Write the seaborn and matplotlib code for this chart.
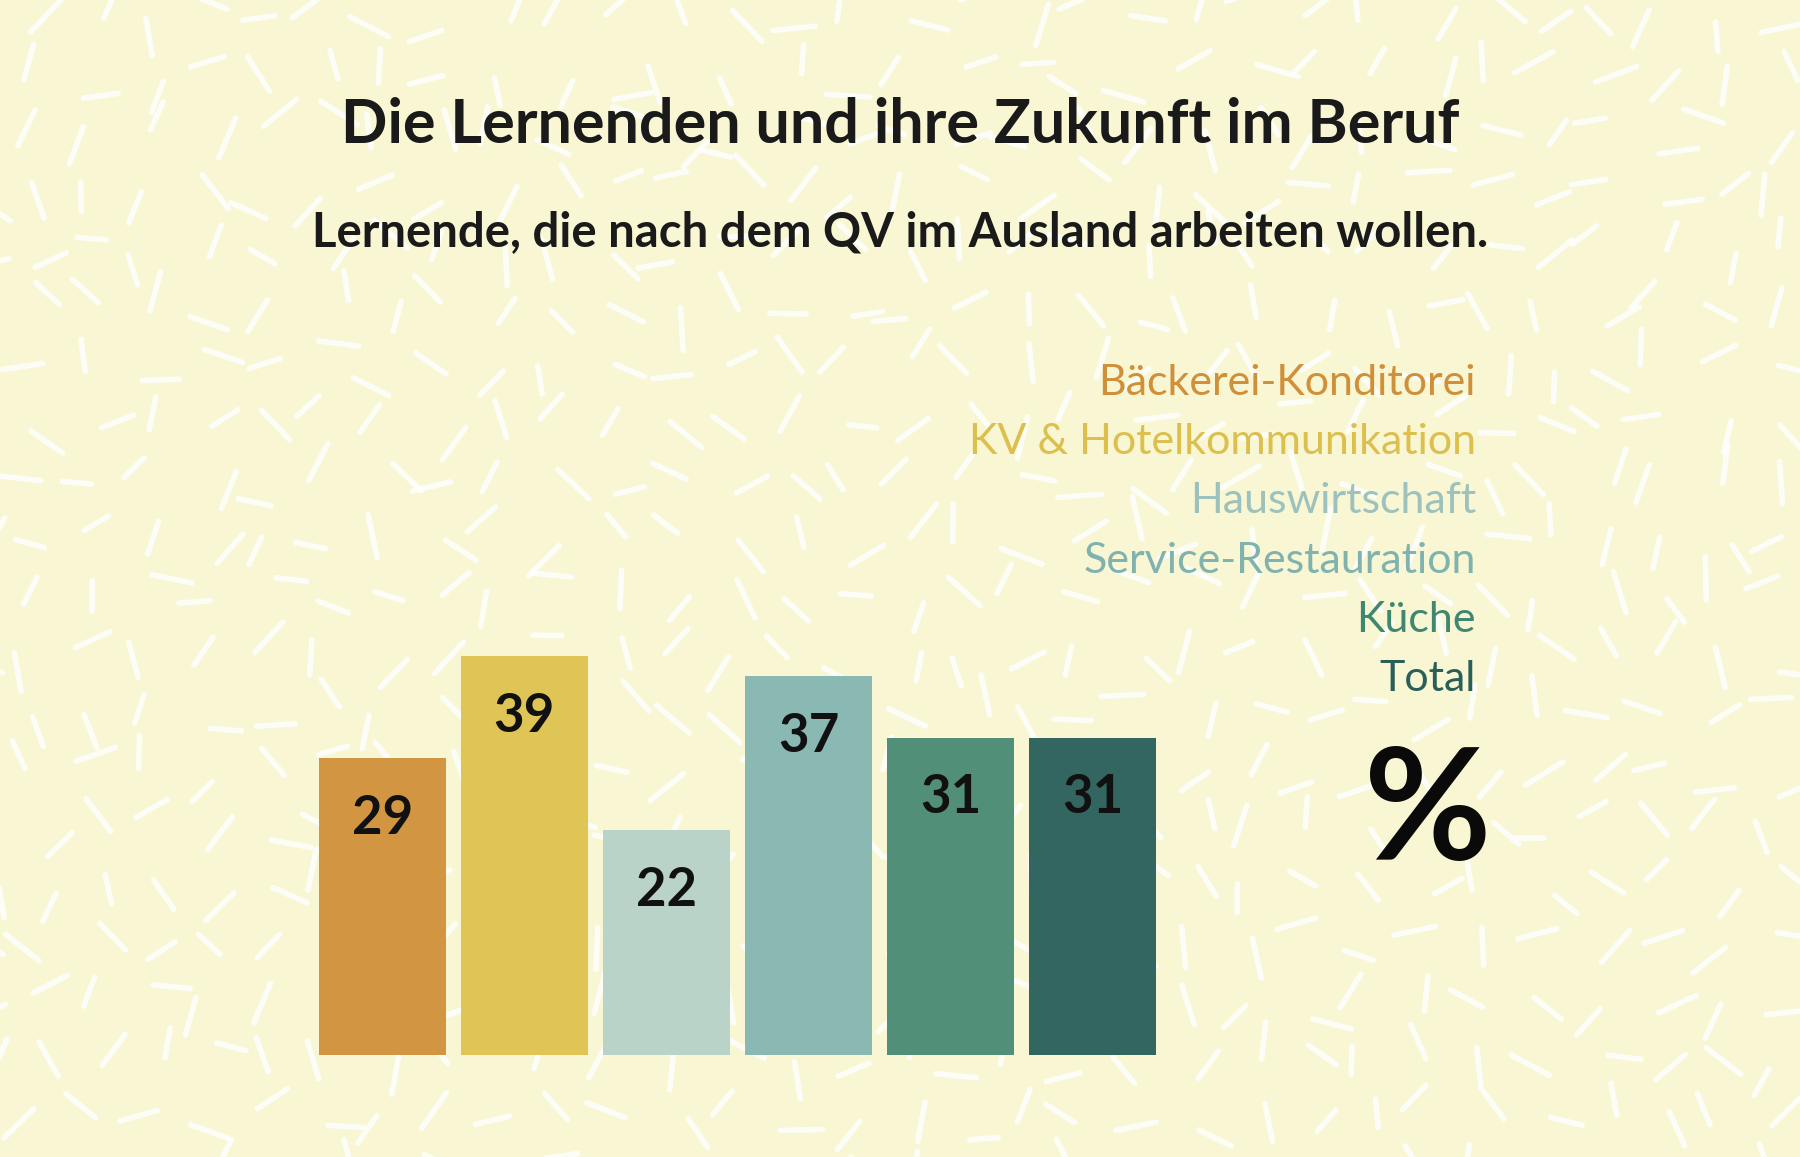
import numpy as np
import pandas as pd
import seaborn as sns
import matplotlib.pyplot as plt

# data
categories = ['Bäckerei-Konditorei', 'KV & Hotelkommunikation', 'Hauswirtschaft',
              'Service-Restauration', 'Küche', 'Total']
values = [29, 39, 22, 37, 31, 31]
bar_colors = ['#D29642', '#DFC456', '#BAD3C8', '#8AB8B2', '#528F78', '#336660']
label_colors = ['#D0903A', '#DDBF4E', '#9DC1BD', '#80B3AF', '#3F8770', '#2A5E59']

df = pd.DataFrame({'Beruf': categories, 'Anteil': values})

sns.set_theme(style='white')
plt.rcParams['font.family'] = ['Lato', 'DejaVu Sans']

bg = '#F8F6D3'
fig = plt.figure(figsize=(18, 11.57), dpi=100)
fig.patch.set_facecolor(bg)

# background confetti dashes (decoration only), jittered grid
rng = np.random.default_rng(11)
step = 58
for gx in np.arange(-20, 1820, step):
    for gy in np.arange(-20, 1180, step):
        x = gx + rng.uniform(-22, 22)
        y = gy + rng.uniform(-22, 22)
        a = rng.uniform(0, np.pi)
        l = rng.uniform(28, 44)
        dx = np.cos(a) * l / 2
        dy = np.sin(a) * l / 2
        fig.add_artist(plt.Line2D([(x - dx) / 1800, (x + dx) / 1800],
                                  [(y - dy) / 1157, (y + dy) / 1157], color='white',
                                  lw=4, solid_capstyle='round', alpha=0.85, zorder=0))

ax = fig.add_axes([0.1772, 0.0882, 0.465, 0.4425])
ax.set_facecolor('none')
sns.barplot(data=df, x='Beruf', y='Anteil', hue='Beruf', palette=bar_colors,
            legend=False, width=0.894, saturation=1, linewidth=0, ax=ax, zorder=2)
ax.set_xlim(-0.447, 5.447)
ax.set_ylim(0, 50)
ax.axis('off')

for i, v in enumerate(values):
    ax.text(i, v - 5.9, str(v), ha='center', va='center', fontsize=38,
            fontweight='bold', color='#111111', zorder=3)

fig.text(0.5, 0.892, 'Die Lernenden und ihre Zukunft im Beruf', ha='center', va='center',
         fontsize=44, fontweight='bold', color='#1A1A1A')
fig.text(0.5, 0.799, 'Lernende, die nach dem QV im Ausland arbeiten wollen.', ha='center',
         va='center', fontsize=34, fontweight='bold', color='#1A1A1A')

legend_y = [0.669, 0.618, 0.567, 0.515, 0.464, 0.413]
for name, col, y in zip(categories, label_colors, legend_y):
    fig.text(0.820, y, name, ha='right', va='center', fontsize=31, color=col)

fig.text(0.793, 0.295, '%', ha='center', va='center', fontsize=112,
         fontweight='bold', color='#0A0A0A')

fig.savefig('out.png', dpi=100, facecolor=bg)
